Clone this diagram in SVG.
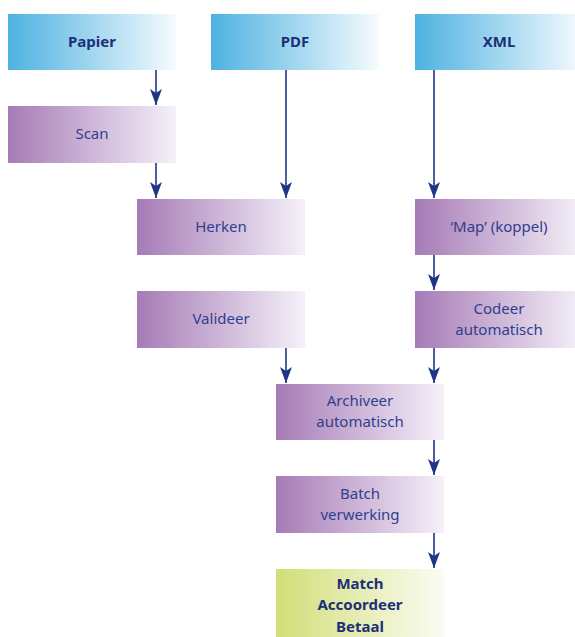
<svg xmlns="http://www.w3.org/2000/svg" width="575" height="637" viewBox="0 0 575 637">
<defs>
<linearGradient id="gBlue" x1="0" y1="0" x2="1" y2="0"><stop offset="0" stop-color="#4db2e1"/><stop offset="1" stop-color="#f6fbfe"/></linearGradient>
<linearGradient id="gPurple" x1="0" y1="0" x2="1" y2="0"><stop offset="0" stop-color="#a67bb6"/><stop offset="1" stop-color="#f5f1f9"/></linearGradient>
<linearGradient id="gGreen" x1="0" y1="0" x2="1" y2="0"><stop offset="0" stop-color="#d2de78"/><stop offset="1" stop-color="#fbfcf3"/></linearGradient>
<marker id="arr" viewBox="0 0 16 12" refX="16" refY="6" markerWidth="16" markerHeight="12" markerUnits="userSpaceOnUse" orient="auto">
<path d="M0,0 L16,6 L0,12 L4,6 Z" fill="#1f3586"/>
</marker>
</defs>
<style>
text{font-family:"Noto Sans","Open Sans","Liberation Sans",sans-serif;font-size:15px;fill:#2e3f8f;text-anchor:middle}
.h{font-weight:bold;fill:#1c2f78}
.c{stroke:#1f3586;stroke-width:1.6;fill:none}
</style>
<g id="papier"><rect x="8" y="14" width="168" height="56" fill="url(#gBlue)"/><text class="h" x="92" y="47">Papier</text></g>
<g id="pdf"><rect x="211" y="14" width="168" height="56" fill="url(#gBlue)"/><text class="h" x="295" y="47">PDF</text></g>
<g id="xml"><rect x="415" y="14" width="168" height="56" fill="url(#gBlue)"/><text class="h" x="499" y="47">XML</text></g>
<g id="scan"><rect x="8" y="106" width="168" height="57" fill="url(#gPurple)"/><text x="92" y="139">Scan</text></g>
<g id="herken"><rect x="137" y="199" width="168" height="56" fill="url(#gPurple)"/><text x="221" y="232">Herken</text></g>
<g id="valideer"><rect x="137" y="291" width="168" height="57" fill="url(#gPurple)"/><text x="221" y="324">Valideer</text></g>
<g id="map"><rect x="415" y="199" width="168" height="56" fill="url(#gPurple)"/><text x="499" y="232">‘Map’ (koppel)</text></g>
<g id="codeer"><rect x="415" y="291" width="168" height="57" fill="url(#gPurple)"/><text x="499" y="314">Codeer</text><text x="499" y="335">automatisch</text></g>
<g id="archiveer"><rect x="276" y="384" width="168" height="56" fill="url(#gPurple)"/><text x="360" y="406">Archiveer</text><text x="360" y="427">automatisch</text></g>
<g id="batch"><rect x="276" y="476" width="168" height="57" fill="url(#gPurple)"/><text x="360" y="499">Batch</text><text x="360" y="520">verwerking</text></g>
<g id="match"><rect x="276" y="569" width="168" height="68" fill="url(#gGreen)"/><text class="h" x="360" y="589">Match</text><text class="h" x="360" y="610">Accoordeer</text><text class="h" x="360" y="632">Betaal</text></g>
<g id="connectors">
<line class="c" x1="156" y1="70" x2="156" y2="105" marker-end="url(#arr)"/>
<line class="c" x1="156" y1="163" x2="156" y2="198" marker-end="url(#arr)"/>
<line class="c" x1="286" y1="70" x2="286" y2="198" marker-end="url(#arr)"/>
<line class="c" x1="434" y1="70" x2="434" y2="198" marker-end="url(#arr)"/>
<line class="c" x1="434" y1="255" x2="434" y2="290" marker-end="url(#arr)"/>
<line class="c" x1="286" y1="348" x2="286" y2="383" marker-end="url(#arr)"/>
<line class="c" x1="434" y1="348" x2="434" y2="383" marker-end="url(#arr)"/>
<line class="c" x1="434" y1="440" x2="434" y2="475" marker-end="url(#arr)"/>
<line class="c" x1="434" y1="533" x2="434" y2="568" marker-end="url(#arr)"/>
</g>
</svg>
